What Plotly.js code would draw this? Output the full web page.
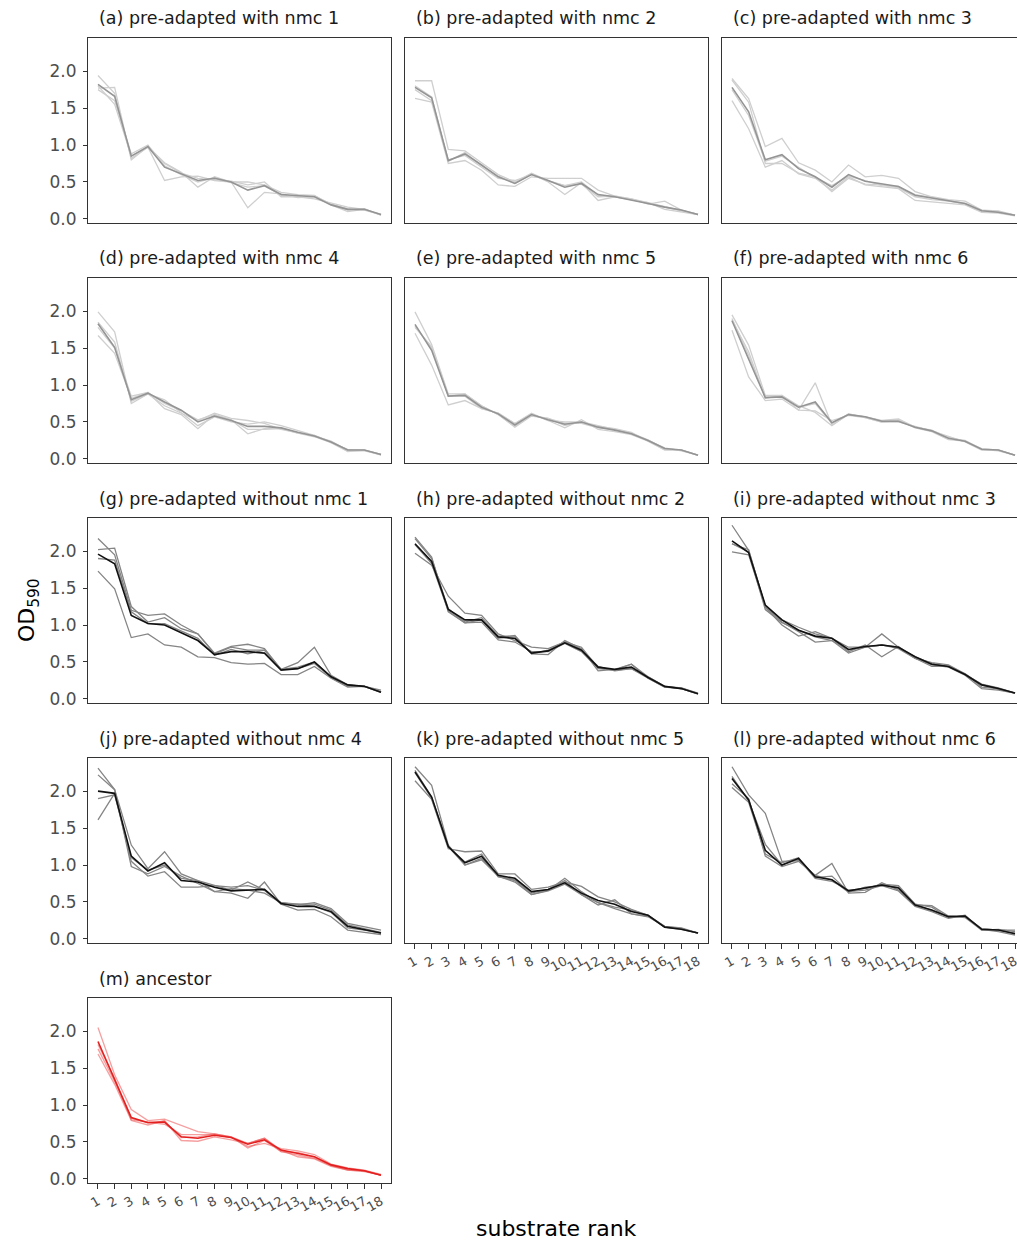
<!DOCTYPE html>
<html>
<head>
<meta charset="utf-8">
<script src="https://cdn.plot.ly/plotly-3.0.1.min.js"></script>
<style>
html, body { margin:0; padding:0; width:1017px; height:1241px; overflow:hidden; background:#fff; }
#chart { width:1025px; height:1241px; }
</style>
</head>
<body>
<div id="chart"></div>
<script>
// ---------- data ----------
const ranks = [1,2,3,4,5,6,7,8,9,10,11,12,13,14,15,16,17,18];
const rankLabels = ['1','2','3','4','5','6','7','8','9','10','11','12','13','14','15','16','17','18'];
const yTickVals = [0, 0.5, 1, 1.5, 2];
const yTickText = ['0.0', '0.5', '1.0', '1.5', '2.0'];

const panelTitles = [
  '(a) pre-adapted with nmc 1', '(b) pre-adapted with nmc 2', '(c) pre-adapted with nmc 3',
  '(d) pre-adapted with nmc 4', '(e) pre-adapted with nmc 5', '(f) pre-adapted with nmc 6',
  '(g) pre-adapted without nmc 1', '(h) pre-adapted without nmc 2', '(i) pre-adapted without nmc 3',
  '(j) pre-adapted without nmc 4', '(k) pre-adapted without nmc 5', '(l) pre-adapted without nmc 6',
  '(m) ancestor'
];
const panelGroups = ['with','with','with','with','with','with',
  'without','without','without','without','without','without','ancestor'];

// panel (a)
const a_reps = [
  [1.94,1.70,0.82,0.97,0.52,0.57,0.58,0.52,0.50,0.50,0.46,0.36,0.33,0.32,0.19,0.10,0.13,0.06],
  [1.77,1.78,0.80,0.98,0.76,0.63,0.43,0.57,0.50,0.15,0.36,0.34,0.29,0.30,0.20,0.12,0.14,0.05],
  [1.80,1.55,0.85,0.97,0.75,0.62,0.55,0.53,0.51,0.46,0.50,0.30,0.30,0.27,0.21,0.16,0.13,0.05],
  [1.75,1.60,0.88,1.00,0.72,0.60,0.50,0.56,0.49,0.43,0.45,0.32,0.31,0.31,0.20,0.14,0.12,0.06]
];
const a_mean = [1.82,1.66,0.85,0.98,0.70,0.61,0.52,0.55,0.50,0.39,0.45,0.33,0.31,0.30,0.19,0.13,0.13,0.06];
// panel (b)
const b_reps = [
  [1.87,1.87,0.94,0.92,0.76,0.60,0.50,0.62,0.52,0.45,0.50,0.32,0.30,0.27,0.22,0.17,0.11,0.06],
  [1.63,1.58,0.75,0.79,0.66,0.46,0.44,0.57,0.55,0.55,0.55,0.39,0.31,0.26,0.21,0.16,0.12,0.06],
  [1.80,1.65,0.78,0.90,0.72,0.58,0.48,0.61,0.50,0.33,0.49,0.25,0.30,0.26,0.22,0.13,0.10,0.06],
  [1.75,1.60,0.80,0.86,0.70,0.55,0.52,0.60,0.51,0.45,0.47,0.30,0.31,0.27,0.20,0.24,0.12,0.06]
];
const b_mean = [1.78,1.64,0.79,0.88,0.73,0.57,0.48,0.60,0.52,0.43,0.48,0.33,0.30,0.26,0.21,0.16,0.12,0.06];
// panel (c)
const c_reps = [
  [1.90,1.63,0.98,1.09,0.76,0.66,0.50,0.73,0.57,0.59,0.55,0.37,0.30,0.26,0.24,0.12,0.11,0.05],
  [1.60,1.22,0.70,0.79,0.61,0.55,0.39,0.57,0.46,0.43,0.41,0.25,0.23,0.21,0.19,0.09,0.08,0.04],
  [1.88,1.58,0.75,0.75,0.62,0.57,0.37,0.55,0.47,0.46,0.42,0.30,0.26,0.24,0.20,0.10,0.09,0.05],
  [1.75,1.40,0.78,0.85,0.70,0.56,0.45,0.58,0.52,0.45,0.44,0.33,0.29,0.25,0.21,0.12,0.10,0.05]
];
const c_mean = [1.78,1.45,0.80,0.87,0.68,0.57,0.43,0.60,0.51,0.48,0.44,0.32,0.28,0.24,0.21,0.11,0.09,0.05];
// panel (d)
const d_reps = [
  [1.99,1.72,0.75,0.88,0.80,0.62,0.45,0.57,0.50,0.47,0.50,0.45,0.38,0.32,0.23,0.11,0.11,0.06],
  [1.67,1.43,0.82,0.90,0.68,0.60,0.41,0.60,0.53,0.34,0.41,0.42,0.35,0.30,0.22,0.13,0.12,0.05],
  [1.85,1.58,0.78,0.88,0.72,0.62,0.52,0.62,0.55,0.52,0.48,0.40,0.36,0.31,0.24,0.12,0.12,0.06],
  [1.78,1.50,0.85,0.90,0.75,0.65,0.53,0.60,0.53,0.40,0.40,0.41,0.35,0.32,0.22,0.10,0.12,0.06]
];
const d_mean = [1.83,1.51,0.80,0.89,0.77,0.66,0.50,0.58,0.52,0.44,0.44,0.42,0.36,0.31,0.23,0.12,0.12,0.06];
// panel (e)
const e_reps = [
  [1.99,1.55,0.88,0.88,0.72,0.60,0.43,0.58,0.55,0.45,0.50,0.44,0.41,0.36,0.24,0.12,0.12,0.05],
  [1.70,1.27,0.73,0.79,0.68,0.62,0.48,0.62,0.52,0.42,0.53,0.40,0.37,0.33,0.24,0.13,0.12,0.05],
  [1.80,1.50,0.85,0.88,0.72,0.60,0.44,0.59,0.55,0.48,0.48,0.42,0.40,0.34,0.25,0.15,0.11,0.05],
  [1.78,1.52,0.86,0.85,0.68,0.62,0.48,0.61,0.52,0.50,0.50,0.45,0.39,0.35,0.26,0.14,0.12,0.05]
];
const e_mean = [1.82,1.47,0.85,0.86,0.70,0.61,0.46,0.60,0.53,0.47,0.50,0.43,0.39,0.34,0.25,0.14,0.12,0.05];
// panel (f)
const f_reps = [
  [1.95,1.54,0.86,0.86,0.72,0.63,0.45,0.61,0.56,0.50,0.52,0.43,0.38,0.30,0.23,0.12,0.12,0.05],
  [1.74,1.11,0.79,0.81,0.66,1.03,0.46,0.60,0.57,0.51,0.53,0.42,0.37,0.26,0.24,0.13,0.11,0.05],
  [1.88,1.45,0.82,0.86,0.66,0.65,0.52,0.59,0.56,0.50,0.50,0.44,0.38,0.28,0.25,0.13,0.12,0.05],
  [1.90,1.40,0.84,0.83,0.70,0.75,0.48,0.61,0.57,0.52,0.54,0.43,0.39,0.29,0.24,0.14,0.12,0.05]
];
const f_mean = [1.87,1.36,0.83,0.84,0.70,0.77,0.49,0.60,0.57,0.51,0.51,0.43,0.38,0.28,0.24,0.13,0.12,0.05];
// panel (g)
const g_reps = [
  [1.73,1.49,0.83,0.88,0.73,0.70,0.57,0.56,0.49,0.47,0.48,0.33,0.33,0.44,0.28,0.16,0.17,0.12],
  [2.17,1.95,1.20,1.13,1.15,1.00,0.88,0.62,0.71,0.74,0.68,0.40,0.49,0.70,0.32,0.19,0.17,0.10],
  [2.02,2.04,1.25,1.04,1.10,0.95,0.88,0.61,0.70,0.66,0.66,0.40,0.43,0.50,0.30,0.19,0.17,0.09],
  [1.90,1.88,1.18,1.02,1.02,0.92,0.82,0.59,0.67,0.61,0.66,0.40,0.41,0.48,0.29,0.17,0.17,0.09]
];
const g_mean = [1.96,1.83,1.13,1.02,1.00,0.89,0.79,0.60,0.64,0.64,0.62,0.39,0.41,0.50,0.30,0.19,0.17,0.09];
// panel (h)
const h_reps = [
  [2.19,1.92,1.18,1.03,1.07,0.82,0.86,0.61,0.60,0.79,0.68,0.38,0.40,0.47,0.28,0.16,0.15,0.08],
  [1.97,1.81,1.39,1.16,1.13,0.88,0.79,0.70,0.68,0.77,0.67,0.44,0.38,0.41,0.30,0.17,0.14,0.07],
  [2.17,1.90,1.22,1.04,1.10,0.85,0.85,0.61,0.66,0.77,0.70,0.42,0.39,0.47,0.30,0.17,0.15,0.07],
  [2.09,1.83,1.19,1.03,1.04,0.80,0.77,0.64,0.64,0.75,0.64,0.41,0.39,0.41,0.28,0.16,0.14,0.07]
];
const h_mean = [2.10,1.86,1.21,1.07,1.07,0.84,0.82,0.62,0.65,0.76,0.66,0.43,0.40,0.43,0.29,0.17,0.14,0.07];
// panel (i)
const i_reps = [
  [2.35,2.01,1.25,1.04,0.91,0.77,0.79,0.66,0.70,0.88,0.70,0.57,0.48,0.44,0.34,0.19,0.13,0.08],
  [1.99,1.95,1.24,1.00,0.85,0.91,0.82,0.64,0.73,0.57,0.71,0.55,0.46,0.43,0.32,0.14,0.12,0.08],
  [2.10,2.02,1.25,1.07,0.97,0.88,0.82,0.70,0.70,0.73,0.70,0.55,0.44,0.44,0.33,0.20,0.15,0.08],
  [2.10,1.99,1.21,1.03,0.93,0.84,0.79,0.62,0.70,0.73,0.68,0.55,0.49,0.46,0.34,0.16,0.14,0.08]
];
const i_mean = [2.14,1.98,1.27,1.07,0.93,0.85,0.82,0.67,0.71,0.73,0.70,0.57,0.47,0.44,0.33,0.19,0.14,0.08];
// panel (j)
const j_reps = [
  [1.61,1.97,1.05,0.85,0.91,0.70,0.70,0.72,0.70,0.72,0.66,0.47,0.47,0.44,0.36,0.15,0.12,0.08],
  [2.31,2.02,1.27,0.95,1.18,0.88,0.79,0.73,0.66,0.77,0.66,0.49,0.46,0.49,0.41,0.21,0.16,0.12],
  [2.22,2.02,0.98,0.88,0.98,0.85,0.75,0.64,0.62,0.55,0.77,0.47,0.39,0.40,0.30,0.12,0.09,0.06],
  [1.90,1.95,1.10,0.93,1.00,0.82,0.79,0.64,0.68,0.66,0.62,0.49,0.47,0.47,0.39,0.19,0.14,0.09]
];
const j_mean = [2.00,1.97,1.12,0.92,1.03,0.79,0.77,0.70,0.65,0.66,0.67,0.48,0.44,0.44,0.37,0.17,0.13,0.08];
// panel (k)
const k_reps = [
  [2.33,2.08,1.27,1.00,1.07,0.85,0.79,0.60,0.66,0.82,0.64,0.49,0.41,0.34,0.30,0.17,0.14,0.08],
  [2.14,1.89,1.22,1.18,1.19,0.88,0.88,0.67,0.70,0.77,0.71,0.57,0.50,0.40,0.32,0.17,0.15,0.08],
  [2.28,1.92,1.25,1.00,1.09,0.85,0.77,0.60,0.65,0.74,0.60,0.46,0.53,0.34,0.31,0.16,0.14,0.08],
  [2.25,1.90,1.25,1.04,1.15,0.84,0.80,0.62,0.67,0.79,0.60,0.49,0.43,0.39,0.32,0.16,0.13,0.08]
];
const k_mean = [2.26,1.92,1.25,1.03,1.12,0.86,0.82,0.64,0.67,0.76,0.62,0.52,0.47,0.37,0.32,0.16,0.13,0.08];
// panel (l)
const l_reps = [
  [2.33,1.95,1.70,1.05,1.06,0.86,1.02,0.62,0.63,0.76,0.66,0.46,0.45,0.31,0.29,0.12,0.12,0.12],
  [2.05,1.85,1.15,1.03,1.10,0.83,0.85,0.64,0.66,0.72,0.70,0.47,0.43,0.29,0.31,0.13,0.10,0.05],
  [2.10,1.90,1.12,0.98,1.05,0.86,0.80,0.63,0.70,0.72,0.65,0.44,0.37,0.28,0.32,0.12,0.13,0.10],
  [2.20,1.87,1.28,1.00,1.08,0.82,0.78,0.66,0.68,0.74,0.72,0.47,0.38,0.31,0.30,0.14,0.12,0.08]
];
const l_mean = [2.17,1.88,1.20,1.00,1.09,0.84,0.80,0.65,0.69,0.73,0.69,0.46,0.39,0.30,0.31,0.13,0.12,0.07];
// panel (m) ancestor
const m_reps = [
  [2.05,1.41,0.94,0.79,0.81,0.72,0.64,0.61,0.57,0.42,0.52,0.37,0.33,0.28,0.18,0.12,0.10,0.05],
  [1.69,1.28,0.79,0.73,0.79,0.52,0.51,0.57,0.53,0.48,0.55,0.39,0.30,0.27,0.17,0.12,0.11,0.05],
  [1.76,1.32,0.82,0.77,0.74,0.60,0.60,0.60,0.56,0.44,0.48,0.41,0.38,0.33,0.20,0.15,0.12,0.06],
  [1.82,1.36,0.80,0.77,0.78,0.56,0.57,0.61,0.57,0.48,0.55,0.37,0.36,0.30,0.19,0.13,0.11,0.05]
];
const m_mean = [1.86,1.34,0.83,0.76,0.77,0.57,0.55,0.59,0.56,0.47,0.53,0.39,0.35,0.30,0.19,0.14,0.11,0.05];

const allReps = [a_reps,b_reps,c_reps,d_reps,e_reps,f_reps,g_reps,h_reps,i_reps,j_reps,k_reps,l_reps,m_reps];
const allMeans = [a_mean,b_mean,c_mean,d_mean,e_mean,f_mean,g_mean,h_mean,i_mean,j_mean,k_mean,l_mean,m_mean];

// ---------- styling / layout ----------
const W = 1025, H = 1241;
const colLeft = [88, 405, 722];
const panelW = 303;
const rowTop = [37.5, 277.5, 517.5, 757.5, 997.5];
const panelH = 185.5;
const FONT = 'DejaVu Sans, Liberation Sans, Arial, sans-serif';

const styles = {
  with:     {rep: '#cfcfcf', mean: '#949494'},
  without:  {rep: '#858585', mean: '#111111'},
  ancestor: {rep: 'rgba(236,80,80,0.55)', mean: '#e3201f'}
};

const traces = [];
const layout = {
  width: W, height: H,
  margin: {l:0, r:0, t:0, b:0},
  paper_bgcolor: '#fff', plot_bgcolor: '#fff',
  showlegend: false,
  font: {family: FONT, color: '#1a1a1a'},
  annotations: []
};

for (let p = 0; p < panelTitles.length; p++) {
  const col = p % 3, row = Math.floor(p / 3);
  const n = p + 1;
  const xName = n === 1 ? 'x' : 'x' + n;
  const yName = n === 1 ? 'y' : 'y' + n;
  const st = styles[panelGroups[p]];
  allReps[p].forEach(r => traces.push({
    x: ranks, y: r, xaxis: xName, yaxis: yName, type: 'scatter', mode: 'lines',
    line: {color: st.rep, width: 1.3}, hoverinfo: 'skip'
  }));
  traces.push({
    x: ranks, y: allMeans[p], xaxis: xName, yaxis: yName, type: 'scatter', mode: 'lines',
    line: {color: st.mean, width: 1.6}, hoverinfo: 'skip'
  });
  const bottom = p >= 10;
  const left = col === 0;
  const L = colLeft[col], T = rowTop[row];
  layout['xaxis' + (n === 1 ? '' : n)] = {
    domain: [L / W, (L + panelW) / W],
    anchor: yName, range: [0.4, 18.6],
    showline: true, mirror: true, linecolor: '#333', linewidth: 1,
    showgrid: false, zeroline: false,
    tickmode: 'array', tickvals: ranks, ticktext: rankLabels,
    ticks: bottom ? 'outside' : '', ticklen: 5, tickwidth: 1, tickcolor: '#333',
    showticklabels: bottom, tickangle: -30,
    tickfont: {family: FONT, size: 13, color: '#4d4d4d'}
  };
  layout['yaxis' + (n === 1 ? '' : n)] = {
    domain: [1 - (T + panelH) / H, 1 - T / H],
    anchor: xName, range: [-0.055, 2.455],
    showline: true, mirror: true, linecolor: '#333', linewidth: 1,
    showgrid: false, zeroline: false,
    tickmode: 'array', tickvals: yTickVals, ticktext: yTickText,
    ticks: left ? 'outside' : '', ticklen: 4, tickwidth: 1, tickcolor: '#333',
    showticklabels: left, ticklabelstandoff: 3,
    tickfont: {family: FONT, size: 17, color: '#4d4d4d'}
  };
  layout.annotations.push({
    xref: 'paper', yref: 'paper', x: (L + 9) / W, y: 1 - (T - 19) / H,
    xanchor: 'left', yanchor: 'middle', showarrow: false,
    text: panelTitles[p], font: {family: FONT, size: 17.5, color: '#1a1a1a'}
  });
}

layout.annotations.push({
  xref: 'paper', yref: 'paper', x: 28 / W, y: 1 - 610 / H,
  xanchor: 'center', yanchor: 'middle', showarrow: false, textangle: -90,
  text: 'OD<sub>590</sub>', font: {family: FONT, size: 22, color: '#000'}
});
layout.annotations.push({
  xref: 'paper', yref: 'paper', x: 556 / W, y: 1 - 1228 / H,
  xanchor: 'center', yanchor: 'middle', showarrow: false,
  text: 'substrate rank', font: {family: FONT, size: 22, color: '#000'}
});

Plotly.newPlot('chart', traces, layout, {staticPlot: true, displayModeBar: false});
</script>
</body>
</html>
